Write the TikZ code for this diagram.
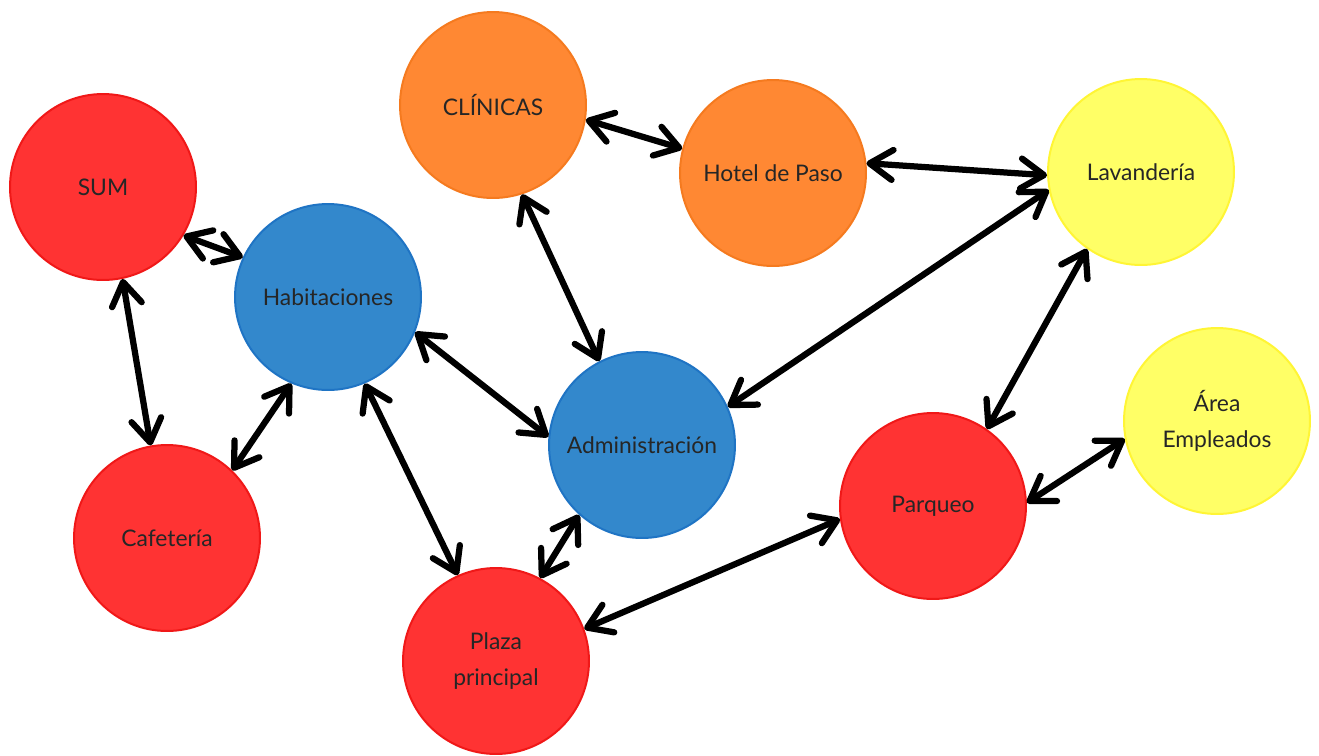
\documentclass[tikz,border=0pt]{standalone}
\usepackage{fontspec}
\setmainfont{Lato}
\usetikzlibrary{arrows.meta}

\definecolor{placeRed}{HTML}{FF3333}
\definecolor{placeRedEdge}{HTML}{F01818}
\definecolor{placeOrange}{HTML}{FF8833}
\definecolor{placeOrangeEdge}{HTML}{F57A1F}
\definecolor{placeBlue}{HTML}{3388CC}
\definecolor{placeBlueEdge}{HTML}{1F74C4}
\definecolor{placeYellow}{HTML}{FFFF66}
\definecolor{placeYellowEdge}{HTML}{FFF535}

\begin{document}
\begin{tikzpicture}[x=0.02cm,y=-0.02cm,
	place/.style={circle,draw,line width=0.04cm,minimum size=3.72cm,inner sep=0pt,align=center,
		text=black!85,font=\fontsize{13}{20.5}\selectfont},
	red place/.style={place,fill=placeRed,draw=placeRedEdge},
	orange place/.style={place,fill=placeOrange,draw=placeOrangeEdge},
	blue place/.style={place,fill=placeBlue,draw=placeBlueEdge},
	yellow place/.style={place,fill=placeYellow,draw=placeYellowEdge},
	link/.style={{Straight Barb[round,length=0.46cm,width=0.6cm]}-{Straight Barb[round,length=0.46cm,width=0.6cm]},
		line width=0.125cm,line cap=round,line join=round}
]

	\useasboundingbox (0,0) rectangle (1319,755);

	\node[red place] (sum) at (103,187) {SUM};
	\node[orange place] (clinicas) at (493,105) {CLÍNICAS};
	\node[orange place] (hotel) at (773,173) {Hotel de Paso};
	\node[yellow place] (lavanderia) at (1141,172) {Lavandería};
	\node[blue place] (habitaciones) at (328,297) {Habitaciones};
	\node[blue place] (admin) at (642,445) {Administración};
	\node[yellow place] (area) at (1217,421) {Área\\Empleados};
	\node[red place] (parqueo) at (933,506) {Parqueo};
	\node[red place] (cafeteria) at (167,538) {Cafetería};
	\node[red place] (plaza) at (496,661) {Plaza\\principal};

	\foreach \a/\aa/\b/\bb in {clinicas/-9/hotel/165, hotel/6/lavanderia/-178,
		lavanderia/-169/admin/24, lavanderia/-125/parqueo/55, area/-169/parqueo/2,
		parqueo/-172/plaza/20, admin/-132/plaza/62, clinicas/-72/admin/117,
		habitaciones/-22/admin/175, habitaciones/-67/plaza/114,
		habitaciones/-113/cafeteria/46, sum/-78/cafeteria/100, sum/-31/habitaciones/155}
		\draw[link] (\a.\aa) -- (\b.\bb);
\end{tikzpicture}
\end{document}
